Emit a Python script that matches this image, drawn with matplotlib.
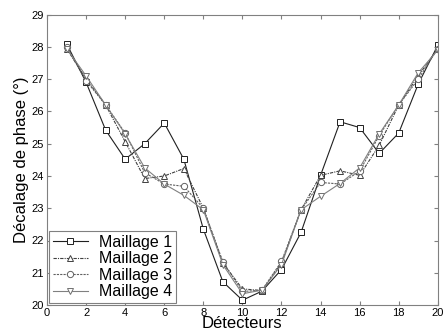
import matplotlib
matplotlib.use("Agg")
import matplotlib.pyplot as plt

plt.rcParams['font.family'] = ['Liberation Sans', 'DejaVu Sans']

detecteurs = list(range(1, 21))
maillage1 = [28.1, 26.9, 25.42, 24.52, 25.0, 25.64, 24.52, 22.35, 20.72, 20.15,
             20.43, 21.1, 22.25, 24.02, 25.68, 25.5, 24.7, 25.33, 26.85, 28.05]
maillage2 = [27.95, 27.0, 26.2, 25.06, 23.92, 24.0, 24.23, 23.0, 21.3, 20.5,
             20.45, 21.3, 22.95, 24.02, 24.16, 24.02, 24.95, 26.2, 27.1, 27.95]
maillage3 = [28.0, 26.95, 26.2, 25.33, 24.1, 23.75, 23.68, 23.0, 21.34, 20.42,
             20.46, 21.35, 22.95, 23.8, 23.75, 24.15, 25.25, 26.2, 27.0, 27.95]
maillage4 = [27.95, 27.1, 26.2, 25.3, 24.25, 23.75, 23.4, 22.95, 21.25, 20.35,
             20.46, 21.25, 22.95, 23.37, 23.77, 24.25, 25.3, 26.2, 27.2, 27.9]
labels = ["Maillage 1", "Maillage 2", "Maillage 3", "Maillage 4"]

fig = plt.figure(figsize=(4.44, 3.33), dpi=100)
ax = fig.add_axes([0.106, 0.084, 0.88, 0.872])

ms = 4.5
ax.plot(detecteurs, maillage1, color="#202020", lw=0.8, ls="-", marker="s",
        mfc="white", mec="#202020", ms=ms, mew=0.7, label=labels[0])
ax.plot(detecteurs, maillage2, color="#404040", lw=0.8, ls=(0, (3, 1, 1, 1)), marker="^",
        mfc="white", mec="#404040", ms=ms, mew=0.7, label=labels[1])
ax.plot(detecteurs, maillage3, color="#606060", lw=0.8, ls=(0, (2, 1)), marker="o",
        mfc="white", mec="#606060", ms=ms, mew=0.7, label=labels[2])
ax.plot(detecteurs, maillage4, color="#808080", lw=0.8, ls="-", marker="v",
        mfc="white", mec="#707070", ms=ms, mew=0.7, label=labels[3])

ax.set_xlim(0, 20)
ax.set_ylim(20, 29)
ax.set_xticks(range(0, 21, 2))
ax.set_yticks(range(20, 30))
ax.tick_params(direction="in", top=True, right=True, labelsize=8, length=3,
               color="#808080", pad=2)
for s in ax.spines.values():
    s.set_color("#808080")
    s.set_linewidth(0.8)
ax.set_xlabel("Détecteurs", fontsize=12, labelpad=-1)
ax.set_ylabel("Décalage de phase (°)", fontsize=12, labelpad=2)

leg = ax.legend(loc="lower left", fontsize=11.5, fancybox=False, framealpha=1,
                borderaxespad=0.1, handlelength=2.2, labelspacing=0.1,
                borderpad=0.25, handletextpad=0.7)
leg.get_frame().set_edgecolor("#808080")
leg.get_frame().set_linewidth(0.8)

fig.savefig("out.png", dpi=100)
